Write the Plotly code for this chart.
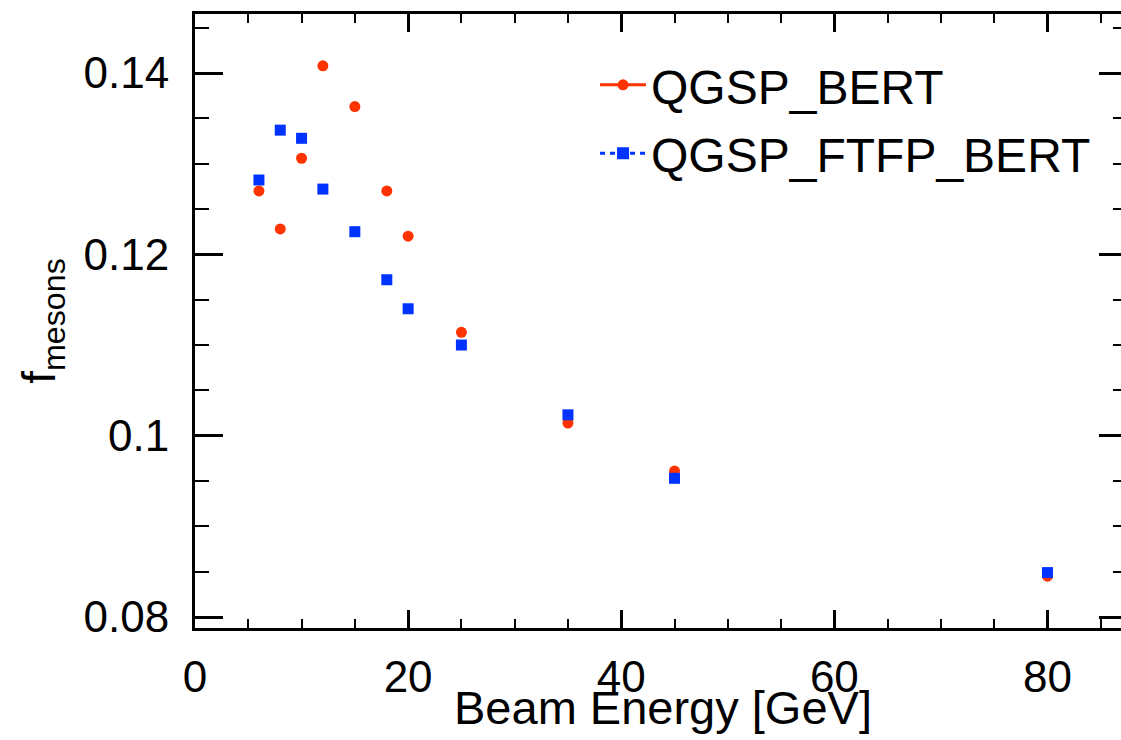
import plotly.graph_objects as go

energy = [6, 8, 10, 12, 15, 18, 20, 25, 35, 45, 80]
qgsp_bert = [0.1270, 0.1228, 0.1306, 0.1408, 0.1363, 0.1270, 0.1220, 0.1114, 0.1014, 0.0961, 0.0845]
qgsp_ftfp_bert = [0.1282, 0.1337, 0.1328, 0.1272, 0.1225, 0.1172, 0.1140, 0.1100, 0.1023, 0.0953, 0.0849]
series_names = ["QGSP_BERT", "QGSP_FTFP_BERT"]
x_title = "Beam Energy [GeV]"
y_title = "f<sub>mesons</sub>"

RED = "#ff3300"
BLUE = "#0033ff"
FONT = "Liberation Sans"
x_range = [0, 86.9]
y_range = [0.07879, 0.14651]

fig = go.Figure()
fig.add_trace(go.Scatter(x=energy, y=qgsp_bert, mode="markers", showlegend=False,
                         marker=dict(symbol="circle", size=11, color=RED)))
fig.add_trace(go.Scatter(x=energy, y=qgsp_ftfp_bert, mode="markers", showlegend=False,
                         marker=dict(symbol="square", size=11, color=BLUE)))
# legend entries
fig.add_trace(go.Scatter(x=[None], y=[None], mode="lines+markers", name=series_names[0],
                         legendgroup="a",
                         line=dict(color=RED, width=3), marker=dict(symbol="circle", size=11, color=RED)))
fig.add_trace(go.Scatter(x=[None], y=[None], mode="lines+markers", name=series_names[1],
                         legendgroup="b",
                         line=dict(color=BLUE, width=3, dash="5px,5px"),
                         marker=dict(symbol="square", size=12, color=BLUE)))
# dummy for right axis
fig.add_trace(go.Scatter(x=[None], y=[None], yaxis="y2", showlegend=False, hoverinfo="skip"))

fig.update_layout(
    width=1121, height=740,
    margin=dict(l=195, r=0, t=14, b=112),
    paper_bgcolor="white", plot_bgcolor="white",
    font=dict(family=FONT, color="black", size=44),
    showlegend=True,
    legend=dict(x=0.432, y=0.946, xanchor="left", yanchor="top",
                bgcolor="rgba(0,0,0,0)", borderwidth=0,
                font=dict(family=FONT, size=48, color="black"),
                itemwidth=46, tracegroupgap=3),
    xaxis=dict(range=x_range, tick0=0, dtick=20, ticks="inside", ticklen=18, tickwidth=2.5,
               tickcolor="black", showline=True, linewidth=3, linecolor="black", mirror="ticks",
               showgrid=False, zeroline=False,
               minor=dict(dtick=5, tick0=0, ticks="inside", ticklen=9, tickwidth=2, tickcolor="black",
                          showgrid=False),
               tickfont=dict(size=44), ticklabelstandoff=8),
    yaxis=dict(range=y_range, tick0=0.08, dtick=0.02, tickformat="~g", ticks="inside", ticklen=28,
               tickwidth=2.5, tickcolor="black", showline=True, linewidth=3, linecolor="black",
               mirror=False, showgrid=False, zeroline=False,
               minor=dict(dtick=0.005, tick0=0.08, ticks="inside", ticklen=14, tickwidth=2,
                          tickcolor="black", showgrid=False),
               tickfont=dict(size=44), ticklabelstandoff=14,
               title=dict(text=y_title, font=dict(size=46), standoff=14)),
    yaxis2=dict(range=y_range, overlaying="y", side="right", anchor="x", matches="y",
                tick0=0.08, dtick=0.02, ticks="inside", ticklen=22, tickwidth=2.5, tickcolor="black",
                showline=False, showgrid=False, zeroline=False, showticklabels=False,
                minor=dict(dtick=0.005, tick0=0.08, ticks="inside", ticklen=8, tickwidth=2,
                           tickcolor="black", showgrid=False)),
    annotations=[dict(text=x_title, xref="paper", yref="paper", x=0.5, y=0,
                      xanchor="center", yanchor="top", xshift=5, yshift=-51,
                      showarrow=False, font=dict(family=FONT, size=47, color="black"))],
)

fig.write_html("out.html")
